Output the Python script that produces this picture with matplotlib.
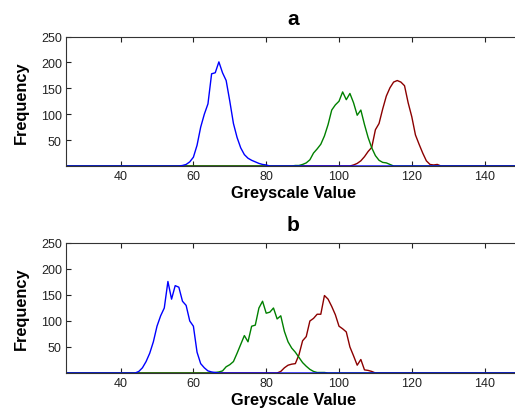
import numpy as np
import matplotlib
matplotlib.use("Agg")
import matplotlib.pyplot as plt

# ---- data (histogram counts per grey level) ----
grey_levels = np.arange(0, 256)

a_blue_start = 56
a_blue = [0, 1, 3, 8, 17, 40, 75, 100, 120, 178, 180, 201, 180, 165, 125, 82, 55,
          35, 22, 15, 11, 8, 5, 3, 2, 0]
a_green_start = 87
a_green = [0, 1, 1, 3, 6, 12, 25, 33, 42, 58, 80, 108, 118, 125, 143, 128, 140,
           122, 98, 108, 80, 55, 35, 20, 11, 7, 6, 3, 0]
a_red_start = 103
a_red = [0, 2, 5, 10, 18, 28, 36, 70, 82, 110, 135, 151, 162, 165, 162, 155, 122,
         95, 60, 42, 25, 10, 3, 2, 3, 0]

b_blue_start = 44
b_blue = [0, 3, 10, 22, 38, 60, 90, 110, 125, 176, 142, 168, 165, 138, 130, 100,
          90, 40, 18, 10, 4, 2, 1, 0]
b_green_start = 65
b_green = [0, 1, 2, 4, 12, 16, 22, 38, 55, 72, 60, 90, 92, 125, 138, 115, 117, 125,
           104, 110, 80, 60, 48, 40, 30, 20, 13, 7, 3, 1, 1, 1, 0]
b_red_start = 83
b_red = [0, 3, 10, 15, 17, 18, 35, 62, 70, 100, 105, 113, 113, 149, 142, 128, 112,
         90, 85, 79, 50, 33, 15, 26, 6, 5, 3, 0]

panel_titles = ["a", "b"]
x_label = "Greyscale Value"
y_label = "Frequency"
x_ticks = [40, 60, 80, 100, 120, 140]
y_ticks = [50, 100, 150, 200, 250]


def full_hist(start, counts):
    h = np.zeros(len(grey_levels))
    h[start:start + len(counts)] = counts
    return h


panels = [
    [(a_red_start, a_red), (a_green_start, a_green), (a_blue_start, a_blue)],
    [(b_red_start, b_red), (b_green_start, b_green), (b_blue_start, b_blue)],
]
colors = ["#8b0000", "#008000", "#0000ff"]

W, H = 515, 414
fig = plt.figure(figsize=(W / 100, H / 100), dpi=100)
plt.rcParams["font.family"] = ["Liberation Sans", "DejaVu Sans"]

# axes rectangles in pixel coords (left, top, right, bottom)
rects = [(66, 37.5, 521, 167), (66, 244, 521, 374)]

for (l, t, r, b), series, title in zip(rects, panels, panel_titles):
    ax = fig.add_axes([l / W, 1 - b / H, (r - l) / W, (b - t) / H])
    for (start, counts), c in zip(series, colors):
        ax.plot(grey_levels, full_hist(start, counts), color=c, lw=1.0)
    ax.set_xlim(25, 150)
    ax.set_ylim(0, 250)
    ax.set_xticks(x_ticks)
    ax.set_yticks(y_ticks)
    ax.tick_params(direction="in", length=3.5, width=0.8, top=True, right=True,
                   labelsize=9, colors="#222222", pad=3)
    for s in ax.spines.values():
        s.set_color("#333333")
        s.set_linewidth(0.8)
    ax.set_title(title, fontsize=15, fontweight="bold", pad=9)
    ax.set_xlabel(x_label, fontsize=11.8, fontweight="bold", labelpad=2)
    ax.set_ylabel(y_label, fontsize=11.8, fontweight="bold")
    ax.yaxis.set_label_coords((29 - l) / (r - l), 0.5)

fig.savefig("out.png", dpi=100)
